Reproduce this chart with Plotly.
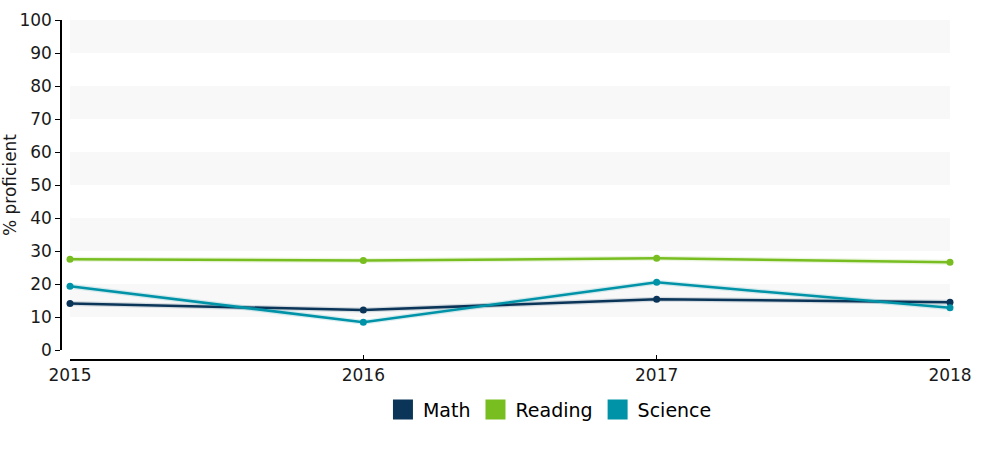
import plotly.graph_objects as go

years = [2015, 2016, 2017, 2018]
math = [14.1, 12.1, 15.4, 14.5]
reading = [27.5, 27.1, 27.8, 26.6]
science = [19.3, 8.4, 20.5, 12.8]
series = [("Math", math, "#0b3558"), ("Reading", reading, "#78be21"), ("Science", science, "#0093a8")]
y_ticks = list(range(0, 101, 10))
bands = [(10, 20), (30, 40), (50, 60), (70, 80), (90, 100)]

fig = go.Figure()
for name, vals, col in series:
    fig.add_trace(go.Scatter(x=years, y=vals, mode="lines", line=dict(color=col, width=5),
                             opacity=0.15, showlegend=False, hoverinfo="skip", cliponaxis=False))
for name, vals, col in series:
    fig.add_trace(go.Scatter(x=years, y=vals, mode="lines+markers", name=name,
                             line=dict(color=col, width=2.5), cliponaxis=False,
                             marker=dict(color=col, size=7), showlegend=False))
for name, vals, col in series:
    fig.add_trace(go.Scatter(x=[None], y=[None], mode="markers", name=name,
                             marker=dict(symbol="square", color=col, size=16,
                                         line=dict(color=col, width=4))))

for y0, y1 in bands:
    fig.add_shape(type="rect", xref="x", yref="y", x0=years[0], x1=years[-1], y0=y0, y1=y1,
                  fillcolor="#f8f8f8", line_width=0, layer="below")

L, R, T, B = 61, 50, 20, 90
W, H = 1000, 450
pw = W - L - R
ph = H - T - B
fig.update_layout(
    width=W, height=H,
    margin=dict(l=L, r=R, t=T, b=B, autoexpand=False),
    plot_bgcolor="white", paper_bgcolor="white",
    font=dict(family="DejaVu Sans, Verdana, sans-serif", size=17, color="#1a1a1a"),
    xaxis=dict(domain=[9 / pw, 1], range=[years[0], years[-1]], tickvals=years,
               ticktext=[str(y) for y in years], automargin=False,
               showgrid=False, zeroline=False, showline=True, linecolor="black", linewidth=1.5,
               ticks="inside", ticklen=4, tickcolor="black", anchor="free", position=0,
               tickfont=dict(size=17)),
    yaxis=dict(domain=[10 / ph, 1], range=[0, 100], tickvals=y_ticks, automargin=False,
               showgrid=False, zeroline=False, showline=True, linecolor="black", linewidth=1.5,
               ticks="outside", ticklen=5, tickcolor="black", anchor="free", position=0,
               title=dict(text="% proficient", font=dict(size=17), standoff=1),
               tickfont=dict(size=17)),
    legend=dict(orientation="h", x=0.55, xanchor="center", y=-0.09, yanchor="top",
                font=dict(size=19, color="black"), itemwidth=30, traceorder="normal"),
    showlegend=True,
)
fig.write_html("out.html")
